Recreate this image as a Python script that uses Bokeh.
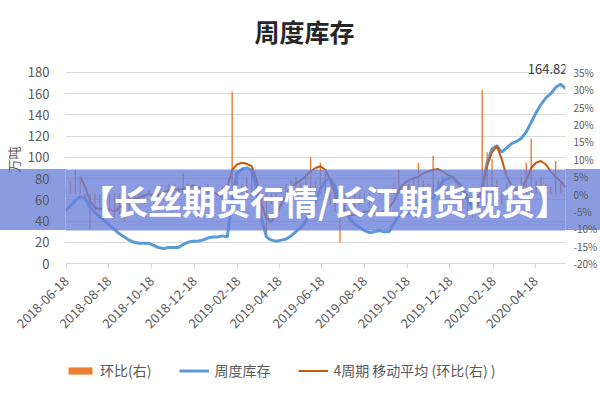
import math
import numpy as np
import pandas as pd
from bokeh.plotting import figure
from bokeh.layouts import column
from bokeh.models import (Range1d, LinearAxis, FixedTicker, DatetimeTickFormatter,
                          PrintfTickFormatter, Legend, LegendItem, Label, BoxAnnotation,
                          ColumnDataSource)
from bokeh.embed import file_html
from bokeh.resources import INLINE

# ---------------- data ----------------
week_start = "2018-06-17"
x_start = "2018-06-17"
x_end = "2020-05-31"

# 周度库存 (万吨), weekly
inventory = [
    50, 54, 59, 63, 62, 53, 48, 44, 40, 36,
    32, 28, 25, 22, 20, 19, 19, 19, 17, 15,
    14, 15, 15, 15, 18, 20, 21, 21, 22, 24,
    25, 25, 26, 25, 60, 85, 89, 90, 88, 70,
    42, 25, 22, 21, 22, 23, 26, 30, 34, 40,
    47, 58, 70, 78, 80, 72, 60, 50, 42, 37,
    34, 31, 29, 30, 31, 30, 30, 38, 45, 46,
    47, 52, 55, 57, 60, 62, 70, 78, 80, 81,
    76, 69, 60, 53, 58, 69, 95, 108, 111, 105,
    109, 113, 115, 118, 124, 133, 142, 150, 156, 160,
    166, 169, 164.82,
]

# 环比(右), percent
mom_change = [
    2, 4, 7, 5, -2, -10, -6, -5, -4, -5,
    -7, -6, -8, -5, -4, -2, -1, 1, -3, -4,
    -2, 3, 1, 2, 6, 3, 1, 0.5, 2, 3,
    1, 0.5, 2, -3, 29.5, 4, 3, 5, 7, -7,
    -9, -12, -3, -2, 2, 3, 4, 5, 3, 6,
    10.6, 4, 9, 6, -3, -5, -14, -6, -5, -4,
    -3, -2, -4, 2, 1, -1, 0.5, 3, 7, 2,
    3, 4, 9, 4, 3, 11, 4, 5, 2, 1,
    -3, -4, -5, -7, -2, 30, 12, 10, 4, -3,
    3, 3, 2, 5, 9, 16, 4, 5, 3, 2,
    9.5, 4, -2,
]

# 4周期 移动平均 (环比(右)), percent
ma4 = [
    None, None, None,
    5, 2, -2, -4, -4.3, -4, -4.5,
    -5, -4, -3, -2, -1.5, -1, -0.5, 0, -0.5, 0,
    0.5, 1, 1.4, 1.2, 1.5, 2, 2.5, 2, 1.5, 1,
    0.5, 0, -1, 2, 7, 8.5, 9, 8.7, 8, 4,
    -3, -7, -8, -6, -3, 0, 2, 3, 4, 5,
    6.5, 7.5, 8, 7, 4, 0, -3, -5, -6, -6,
    -6, -5, -5, -5.5, -5.5, -5, -4, -2, 1, 3,
    4, 4.5, 5, 6, 6.5, 7, 7.2, 6.5, 5.5, 5,
    3.5, 2, -1, -2.5, -3.5, 2, 8, 12, 13.8, 10,
    5, 2.5, 1, 1.5, 4, 7.5, 9, 9.5, 8.5, 6.5,
    4.9, 3.7, 2,
]

tick_labels = ["2018-06-18", "2018-08-18", "2018-10-18", "2018-12-18",
               "2019-02-18", "2019-04-18", "2019-06-18", "2019-08-18",
               "2019-10-18", "2019-12-18", "2020-02-18", "2020-04-18"]
left_ticks = [0, 20, 40, 60, 80, 100, 120, 140, 160, 180]
right_ticks = [-20, -15, -10, -5, 0, 5, 10, 15, 20, 25, 30, 35]

title_text = "周度库存"
left_axis_title = "万吨"
legend_labels = ["环比(右)", "周度库存", "4周期 移动平均 (环比(右) )"]
banner_text = "【长丝期货行情/长江期货现货】"

FONT = "Noto Sans CJK SC"
TXT = "#595959"
BAND = "rgb(139,155,224)"
C_BAR, C_INV, C_MA = "#ED7D31", "#5B9BD5", "#C55A11"


def bare(fig):
    fig.background_fill_color = "white"
    fig.border_fill_color = "white"
    fig.outline_line_color = None
    fig.grid.visible = False
    return fig


def strip(h):
    return bare(figure(width=600, height=h, output_backend="svg", toolbar_location=None,
                       x_range=Range1d(0, 600), y_range=Range1d(0, h),
                       x_axis_location=None, y_axis_location=None, min_border=0,
                       min_border_left=0, min_border_right=0,
                       min_border_top=0, min_border_bottom=0))


# ---------------- title strip (55 px) ----------------
# (the strip's frame is aligned with the chart frame, which starts 58 px in)
tf = strip(55)
tf.add_layout(Label(x=239, y=25, x_units="screen", text=title_text, text_align="center",
                    text_baseline="middle", text_font=FONT, text_font_size="25px",
                    text_font_style="bold", text_color="#262626"))

# ---------------- main chart (280 px) ----------------
dates = pd.date_range(week_start, periods=len(inventory), freq="7D")
src = ColumnDataSource(dict(
    date=dates,
    inv=np.array(inventory, dtype=float),
    mom=np.array(mom_change, dtype=float),
    ma=np.array([np.nan if v is None else v for v in ma4], dtype=float),
))

# a little head-room above the 180 gridline for the data label
left_top = 196
right_top = right_ticks[0] + (right_ticks[-1] - right_ticks[0]) * left_top / left_ticks[-1]

p = figure(width=600, height=280, x_axis_type="datetime",
           output_backend="svg", toolbar_location=None,
           x_range=Range1d(pd.Timestamp(x_start), pd.Timestamp(x_end)),
           y_range=Range1d(left_ticks[0], left_top),
           min_border_left=58, min_border_right=25,
           min_border_top=0, min_border_bottom=72)
p.outline_line_color = None
p.background_fill_color = "white"
# transparent border so the watermark band (host background) shows in the margins
p.border_fill_color = None
p.styles = {"background": f"linear-gradient(to bottom, white 0px, white 114px, "
                          f"{BAND} 114px, {BAND} 175px, white 175px, white 280px)"}
p.extra_y_ranges = {"pct": Range1d(right_ticks[0], right_top)}

bars = p.vbar(x="date", top="mom", bottom=0, width=2 * 86400000, y_range_name="pct",
              source=src, fill_color=C_BAR, line_color=None)
inv_line = p.line("date", "inv", source=src, line_color=C_INV, line_width=3)
ma_line = p.line("date", "ma", source=src, y_range_name="pct",
                 line_color=C_MA, line_width=2)

# x axis
tick_ms = [pd.Timestamp(t).value / 1e6 for t in tick_labels]
xa = p.xaxis[0]
xa.ticker = FixedTicker(ticks=tick_ms)
fmt = "%Y-%m-%d"
xa.formatter = DatetimeTickFormatter(microseconds=fmt, milliseconds=fmt, seconds=fmt,
                                     minsec=fmt, minutes=fmt, hourmin=fmt, hours=fmt,
                                     days=fmt, months=fmt, years=fmt)
xa.major_label_orientation = math.pi / 4
xa.axis_line_color = "#D9D9D9"
xa.major_tick_line_color = "#D9D9D9"
xa.major_tick_out = 5
xa.major_tick_in = 0
xa.minor_tick_line_color = None
xa.major_label_text_font = FONT
xa.major_label_text_font_size = "13px"
xa.major_label_text_color = TXT
xa.major_label_standoff = 10

# left axis
ya = p.yaxis[0]
ya.ticker = FixedTicker(ticks=left_ticks)
ya.axis_line_color = None
ya.major_tick_line_color = None
ya.minor_tick_line_color = None
ya.major_label_text_font = FONT
ya.major_label_text_font_size = "13px"
ya.major_label_text_color = TXT
ya.major_label_standoff = 10
ya.axis_label = left_axis_title
ya.axis_label_text_font = FONT
ya.axis_label_text_font_size = "13px"
ya.axis_label_text_font_style = "normal"
ya.axis_label_text_color = TXT
ya.axis_label_standoff = 2

# right axis
ra = LinearAxis(y_range_name="pct", ticker=FixedTicker(ticks=right_ticks),
                formatter=PrintfTickFormatter(format="%d%%"))
ra.axis_line_color = None
ra.major_tick_line_color = None
ra.minor_tick_line_color = None
ra.major_label_text_font = FONT
ra.major_label_text_font_size = "10px"
ra.major_label_text_color = TXT
ra.major_label_standoff = 2
p.add_layout(ra, "right")

p.xgrid.visible = False
p.ygrid.grid_line_color = "#D9D9D9"
p.ygrid.ticker = FixedTicker(ticks=left_ticks)

# data label on last value
last_ms = dates[-1].value / 1e6
p.add_layout(Label(x=last_ms, y=inventory[-1], text=f"{inventory[-1]:.2f}",
                   x_offset=2, y_offset=15, text_align="right", text_baseline="bottom",
                   text_font=FONT, text_font_size="13px", text_color="#404040"))

# watermark band inside the frame (frame-relative screen units)
p.add_layout(BoxAnnotation(left=-80, right=560, top=94, bottom=33,
                           left_units="screen", right_units="screen",
                           top_units="screen", bottom_units="screen",
                           fill_color="#6A7FD8", fill_alpha=0.78, line_color=None,
                           level="overlay"))
p.add_layout(Label(x=259, y=63, x_units="screen", y_units="screen", text=banner_text,
                   text_align="center", text_baseline="middle", text_font=FONT,
                   text_font_size="34px", text_font_style="bold", text_color="white",
                   level="overlay"))

# ---------------- legend strip (65 px) ----------------
lf = strip(65)
# off-screen proxies that carry the series styles into the legend
k_bar = lf.vbar(x=[-1000], top=[-1000], bottom=[-1001], width=1,
                fill_color=C_BAR, line_color=None)
k_inv = lf.line(x=[-1000, -999], y=[-1000, -1000], line_color=C_INV, line_width=3)
k_ma = lf.line(x=[-1000, -999], y=[-1000, -1000], line_color=C_MA, line_width=2)
legend = Legend(items=[LegendItem(label=legend_labels[0], renderers=[k_bar]),
                       LegendItem(label=legend_labels[1], renderers=[k_inv]),
                       LegendItem(label=legend_labels[2], renderers=[k_ma])],
                orientation="horizontal", location=(0, 20),
                glyph_width=30, glyph_height=9, label_standoff=5, spacing=28,
                padding=0, margin=0, border_line_color=None, background_fill_alpha=0,
                label_text_font=FONT, label_text_font_size="14px", label_text_color=TXT)
lf.add_layout(legend, "center")

layout = column(tf, p, lf, spacing=0)
open("out.html", "w").write(file_html(layout, INLINE))
